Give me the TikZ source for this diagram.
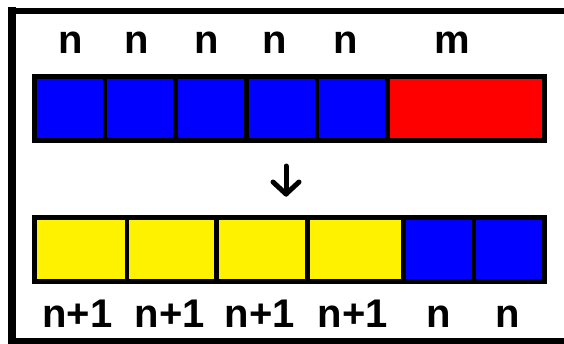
\documentclass[tikz,border=0pt]{standalone}
\usepackage{fontspec}
\setmainfont{Liberation Sans}
\begin{document}
\begin{tikzpicture}[x=1pt,y=-1pt,
  cell/.style={draw=black, line width=4.6pt, rectangle, inner sep=0pt, outer sep=0pt, minimum height=64pt},
  lbl/.style={anchor=base, inner sep=0pt, font=\fontsize{40}{40}\selectfont\bfseries},
  frameline/.style={draw=black, line width=6.5pt},
  arr/.style={draw=black, line width=5pt, line cap=round, line join=round}]
\clip (0,0) rectangle (564,343);
\fill[white] (0,0) rectangle (564,343);
% frame
\draw[frameline, line width=8pt] (12,7) -- (12,350);
\draw[frameline] (8,11) -- (570,11);
\draw[frameline] (8,341) -- (570,341);
% top bar
\node[cell, fill=blue, minimum width=70.6pt] (t1) at (69.8,108.5) {};
\node[cell, fill=blue, minimum width=70.4pt] (t2) at (140.3,108.5) {};
\node[cell, fill=blue, minimum width=70.8pt] (t3) at (210.9,108.5) {};
\node[cell, fill=blue, minimum width=70.6pt] (t4) at (281.6,108.5) {};
\node[cell, fill=blue, minimum width=70.6pt] (t5) at (352.2,108.5) {};
\node[cell, fill=red, minimum width=157pt] (t6) at (466,108.5) {};
% bottom bar
\node[cell, fill=yellow, minimum width=92.5pt] (b1) at (80.75,249.5) {};
\node[cell, fill=yellow, minimum width=89.5pt] (b2) at (171.75,249.5) {};
\node[cell, fill=yellow, minimum width=91pt] (b3) at (262,249.5) {};
\node[cell, fill=yellow, minimum width=96pt] (b4) at (355.5,249.5) {};
\node[cell, fill=blue, minimum width=70.5pt] (b5) at (438.75,249.5) {};
\node[cell, fill=blue, minimum width=70.5pt] (b6) at (509.25,249.5) {};
% top labels
\node[lbl] (lt1) at (71,53) {n};
\node[lbl] (lt2) at (137,53) {n};
\node[lbl] (lt3) at (206.5,53) {n};
\node[lbl] (lt4) at (275,53) {n};
\node[lbl] (lt5) at (346,53) {n};
\node[lbl] (lt6) at (452.5,53) {m};
% bottom labels
\node[lbl] (lb1) at (77.5,327) {n+1};
\node[lbl] (lb2) at (170,327) {n+1};
\node[lbl] (lb3) at (260,327) {n+1};
\node[lbl] (lb4) at (353,327) {n+1};
\node[lbl] (lb5) at (439,327) {n};
\node[lbl] (lb6) at (508,327) {n};
% arrow
\coordinate (as) at (286,166);
\coordinate (ae) at (286,194);
\coordinate (al) at (273,182);
\coordinate (ar) at (299,182);
\draw[arr] (as) -- (ae);
\draw[arr] (al) -- (ae) -- (ar);
\end{tikzpicture}
\end{document}
